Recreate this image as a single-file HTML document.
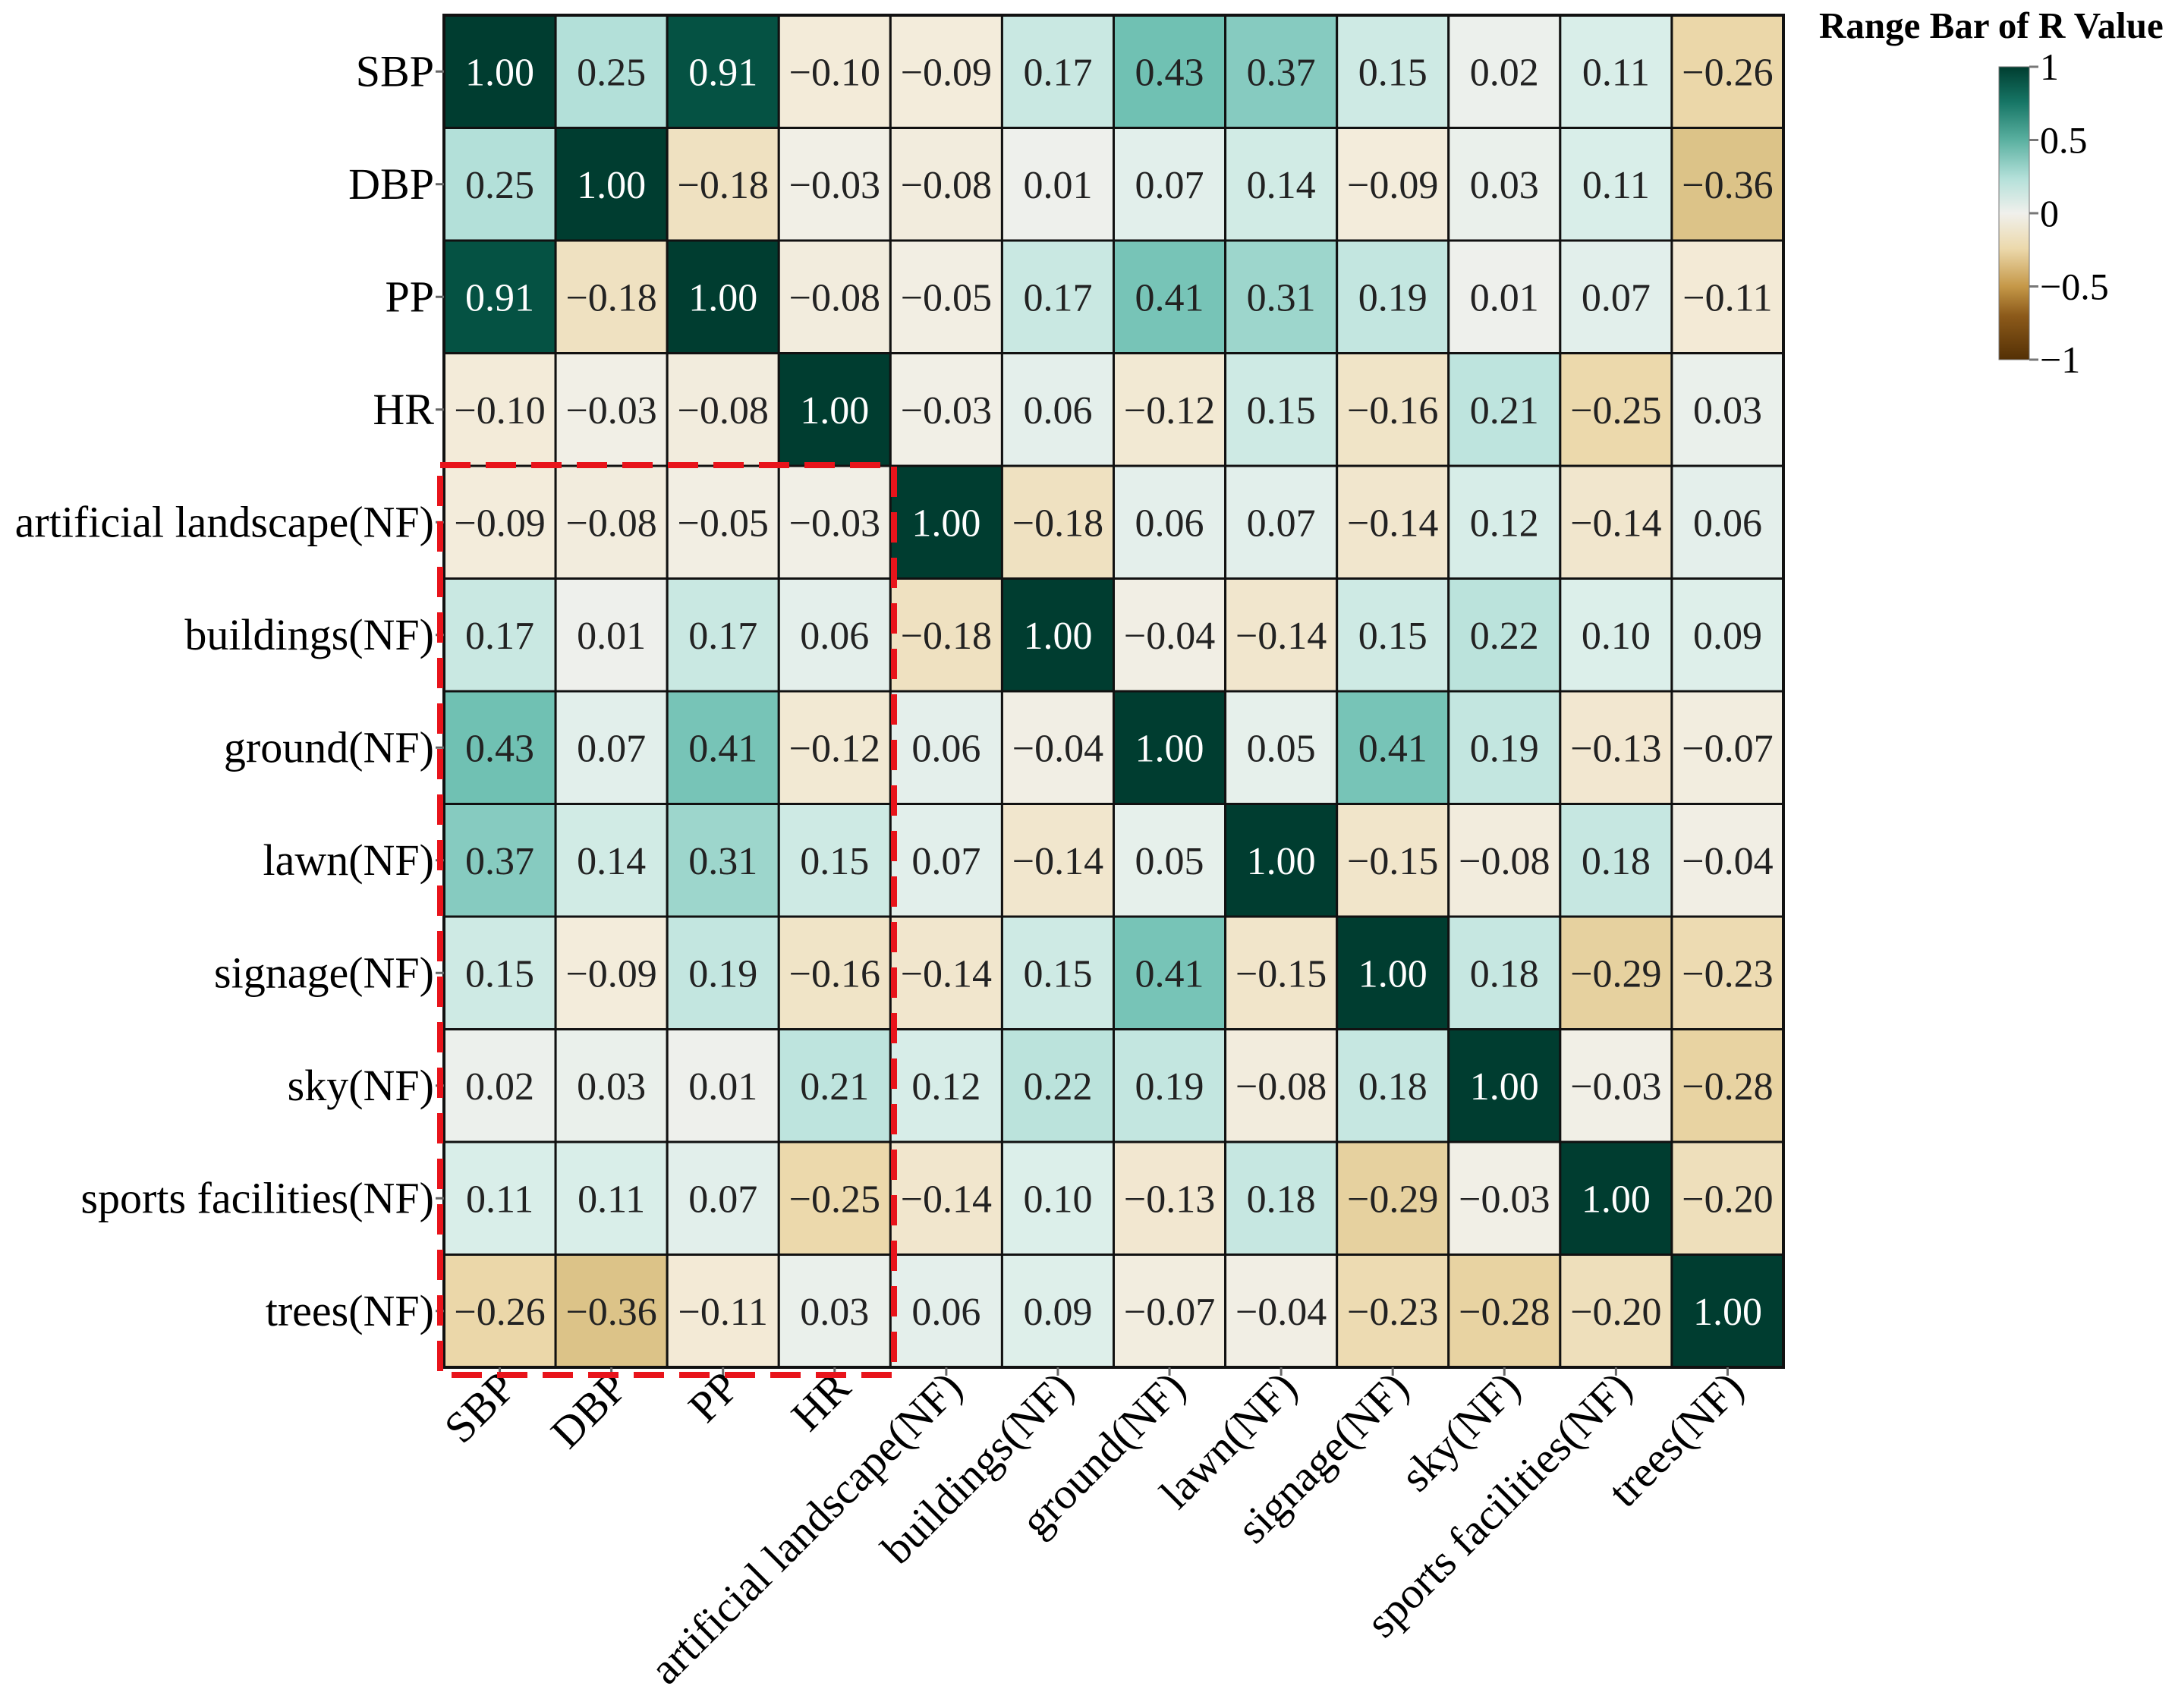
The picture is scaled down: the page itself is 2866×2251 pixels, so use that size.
<!DOCTYPE html>
<html><head><meta charset="utf-8">
<style>
html,body{margin:0;padding:0;background:#fff;}
svg{display:block;font-family:"Liberation Serif","DejaVu Serif",serif;}
</style></head>
<body>
<svg id="chart" width="2866" height="2251" viewBox="0 0 2866 2251" xmlns="http://www.w3.org/2000/svg">
<defs>
<linearGradient id="cbgrad" x1="0" y1="1" x2="0" y2="0">
<stop offset="0" stop-color="#543005"/>
<stop offset="0.15" stop-color="#8c5a1a"/>
<stop offset="0.25" stop-color="#c59848"/>
<stop offset="0.38" stop-color="#ecd9ac"/>
<stop offset="0.5" stop-color="#f0f0ec"/>
<stop offset="0.62" stop-color="#b3e0d9"/>
<stop offset="0.75" stop-color="#5ab0a0"/>
<stop offset="0.88" stop-color="#167565"/>
<stop offset="1" stop-color="#003d30"/>
</linearGradient>
</defs>
<g id="cells"></g>
<g id="ylabels"></g>
<g id="xlabels"></g>
<rect x="580" y="613" width="598" height="1199" fill="none" stroke="#e8141b" stroke-width="8" stroke-dasharray="40 20"/>
<g>
<text x="2397" y="50" font-size="49" font-weight="bold" fill="#000">Range Bar of R Value</text>
<rect x="2634" y="88" width="40" height="386" fill="url(#cbgrad)" stroke="#777" stroke-width="1"/>
<g id="cbticks"></g>
</g>
</svg>
<script>
const labels = ["SBP","DBP","PP","HR","artificial landscape(NF)","buildings(NF)","ground(NF)","lawn(NF)","signage(NF)","sky(NF)","sports facilities(NF)","trees(NF)"];
const rowSBP = [1.00,0.25,0.91,-0.10,-0.09,0.17,0.43,0.37,0.15,0.02,0.11,-0.26];
const rowDBP = [0.25,1.00,-0.18,-0.03,-0.08,0.01,0.07,0.14,-0.09,0.03,0.11,-0.36];
const rowPP = [0.91,-0.18,1.00,-0.08,-0.05,0.17,0.41,0.31,0.19,0.01,0.07,-0.11];
const rowHR = [-0.10,-0.03,-0.08,1.00,-0.03,0.06,-0.12,0.15,-0.16,0.21,-0.25,0.03];
const rowArtificial = [-0.09,-0.08,-0.05,-0.03,1.00,-0.18,0.06,0.07,-0.14,0.12,-0.14,0.06];
const rowBuildings = [0.17,0.01,0.17,0.06,-0.18,1.00,-0.04,-0.14,0.15,0.22,0.10,0.09];
const rowGround = [0.43,0.07,0.41,-0.12,0.06,-0.04,1.00,0.05,0.41,0.19,-0.13,-0.07];
const rowLawn = [0.37,0.14,0.31,0.15,0.07,-0.14,0.05,1.00,-0.15,-0.08,0.18,-0.04];
const rowSignage = [0.15,-0.09,0.19,-0.16,-0.14,0.15,0.41,-0.15,1.00,0.18,-0.29,-0.23];
const rowSky = [0.02,0.03,0.01,0.21,0.12,0.22,0.19,-0.08,0.18,1.00,-0.03,-0.28];
const rowSports = [0.11,0.11,0.07,-0.25,-0.14,0.10,-0.13,0.18,-0.29,-0.03,1.00,-0.20];
const rowTrees = [-0.26,-0.36,-0.11,0.03,0.06,0.09,-0.07,-0.04,-0.23,-0.28,-0.20,1.00];
const matrix = [rowSBP,rowDBP,rowPP,rowHR,rowArtificial,rowBuildings,rowGround,rowLawn,rowSignage,rowSky,rowSports,rowTrees];
const cbTickValues = [1,0.5,0,-0.5,-1];
const cbTickLabels = ["1","0.5","0","\u22120.5","\u22121"];

const NS = "http://www.w3.org/2000/svg";
const L = 585, R = 2350, T = 20, B = 1802;
const n = labels.length;
const cw = (R - L) / n, ch = (B - T) / n;
const xPos = i => L + i * cw;
const yPos = j => T + j * ch;

const stops = [[-1,[84,48,5]],[-0.5,[197,152,72]],[-0.36,[220,195,136]],[-0.25,[236,217,172]],[-0.1,[243,235,217]],[0,[240,240,236]],[0.1,[220,239,234]],[0.25,[179,224,217]],[0.43,[112,193,179]],[0.6,[53,151,138]],[0.8,[10,107,91]],[1,[0,61,48]]];
function color(v){
  for(let k=0;k<stops.length-1;k++){
    const [a,ca]=stops[k],[b,cb]=stops[k+1];
    if(v>=a && v<=b){
      const t=(v-a)/(b-a);
      return "rgb("+ca.map((c,i)=>Math.round(c+(cb[i]-c)*t)).join(",")+")";
    }
  }
  return v<0?"rgb(84,48,5)":"rgb(0,61,48)";
}
function mk(tag, attrs, parent){
  const e=document.createElementNS(NS,tag);
  for(const k in attrs) e.setAttribute(k,attrs[k]);
  parent.appendChild(e);
  return e;
}
function fmt(v){ const s=Math.abs(v).toFixed(2); return v<0?"\u2212"+s:s; }

const cells=document.getElementById("cells");
matrix.forEach((row,j)=>{
  row.forEach((v,i)=>{
    const r=mk("rect",{x:xPos(i),y:yPos(j),width:cw,height:ch,fill:color(v),stroke:"#111","stroke-width":3},cells);
    
    
    const t=mk("text",{x:xPos(i)+cw/2,y:yPos(j)+ch/2+18,"text-anchor":"middle","font-size":52,fill:Math.abs(v)>0.7?"#fff":"#222"},cells);
    t.textContent=fmt(v);
    
    
  });
});
mk("rect",{x:L,y:T,width:R-L,height:B-T,fill:"none",stroke:"#111","stroke-width":4},cells);

const yl=document.getElementById("ylabels");
const xl=document.getElementById("xlabels");
labels.forEach((lab,k)=>{
  const cy=yPos(k)+ch/2;
  const tk=mk("line",{x1:L-11,x2:L,y1:cy,y2:cy,stroke:"#666","stroke-width":3},yl);
  
  
  const t=mk("text",{x:L-13,y:cy+19,"text-anchor":"end","font-size":58,fill:"#000"},yl);
  t.textContent=lab;
  
  
  const cx=xPos(k)+cw/2;
  const tx=mk("line",{x1:cx,x2:cx,y1:B,y2:B+11,stroke:"#666","stroke-width":3},xl);
  
  
  const ax=cx+24, ay=B+30;
  const u=mk("text",{x:ax,y:ay,"text-anchor":"end","font-size":58,fill:"#000",transform:"rotate(-45 "+ax+" "+ay+")"},xl);
  u.textContent=lab;
  
  
});

const cb=document.getElementById("cbticks");
const cbTop=88, cbBot=474;
const cbY=v=>cbBot-(v+1)/2*(cbBot-cbTop);
cbTickValues.forEach((v,k)=>{
  const y=cbY(v);
  const ln=mk("line",{x1:2674,x2:2686,y1:y,y2:y,stroke:"#777","stroke-width":3},cb);
  
  
  const t=mk("text",{x:2688,y:y+17,"font-size":50,fill:"#000"},cb);
  t.textContent=cbTickLabels[k];
  
  
});
</script>
</body></html>
